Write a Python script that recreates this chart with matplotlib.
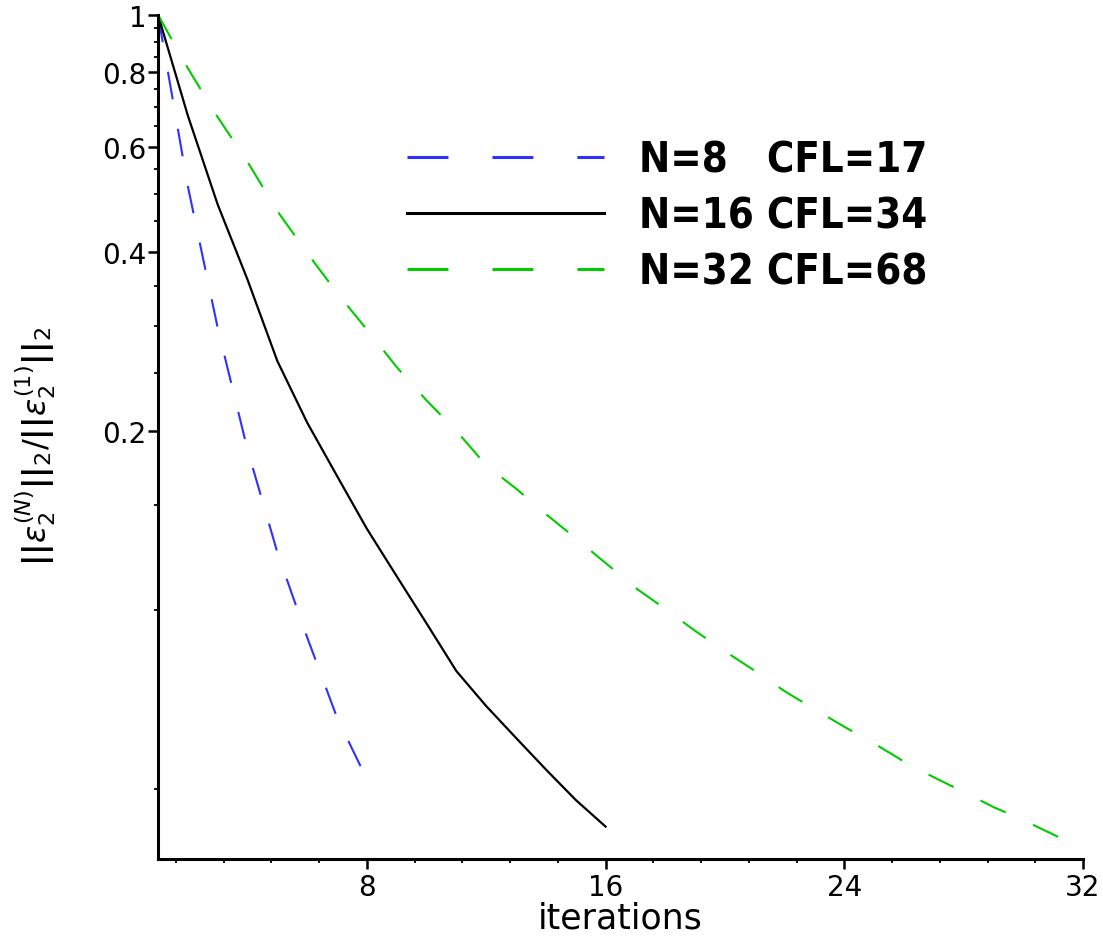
import numpy as np
import matplotlib
matplotlib.use("Agg")
import matplotlib.pyplot as plt
from matplotlib import font_manager
from matplotlib.ticker import FixedLocator, FixedFormatter, NullFormatter

# relative error norm per iteration
it8 = [1, 2, 3, 4, 5, 6, 7, 8]
err8 = [1.0, 0.515, 0.298, 0.186, 0.125, 0.090, 0.066, 0.052]

it16 = list(range(1, 17))
err16 = [1.0, 0.677, 0.48, 0.359, 0.262, 0.2065, 0.168, 0.137,
         0.114, 0.095, 0.079, 0.069, 0.061, 0.054, 0.048, 0.0433]

it32 = list(range(1, 33))
err32 = [1.0, 0.813, 0.673, 0.566, 0.468, 0.398, 0.341, 0.296,
         0.256, 0.225, 0.200, 0.175, 0.160, 0.145, 0.132, 0.120,
         0.109, 0.1005, 0.0923, 0.0853, 0.0791, 0.0731, 0.0682, 0.0637,
         0.0597, 0.0557, 0.0524, 0.0495, 0.0467, 0.0444, 0.0420, 0.0397]

labels = ["N=8   CFL=17", "N=16 CFL=34", "N=32 CFL=68"]

yticks = [0.2, 0.4, 0.6, 0.8, 1.0]
yticklabels = ["0.2", "0.4", "0.6", "0.8", "1"]
xticks = [8, 16, 24, 32]

# a condensed bold face gets closer to the tall legend text, if there is one
condensed = any(f.name == "DejaVu Sans" and f.stretch == "condensed"
                for f in font_manager.fontManager.ttflist)
if condensed:
    leg_prop = {"family": "DejaVu Sans", "weight": "bold",
                "stretch": "condensed", "size": 30}
else:
    leg_prop = {"family": "DejaVu Sans", "weight": "bold", "size": 27}
leg_size = leg_prop["size"]

fig = plt.figure(figsize=(11.03, 9.37), dpi=100)
ax = fig.add_axes([158/1103, 77/937, 925/1103, 844.3/937])

dash = (0, (13.4, 14.4))
ax.plot(it8, err8, color="#3030ff", lw=1.5, ls=dash, label=labels[0])
ax.plot(it16, err16, color="black", lw=1.6, label=labels[1])
ax.plot(it32, err32, color="#00cc00", lw=1.5, ls=dash, label=labels[2])

ax.set_yscale("log")
ax.set_xlim(1, 32)
ax.set_ylim(0.0382, 1.0)

ax.yaxis.set_major_locator(FixedLocator(yticks))
ax.yaxis.set_major_formatter(FixedFormatter(yticklabels))
yminor = [round(0.05*k, 2) for k in range(1, 20) if k % 4 != 0]
ax.yaxis.set_minor_locator(FixedLocator(yminor))
ax.yaxis.set_minor_formatter(NullFormatter())

ax.xaxis.set_major_locator(FixedLocator(xticks))
ax.xaxis.set_minor_locator(FixedLocator([1.6*k for k in range(1, 21) if k % 5 != 0]))

for s in ["top", "right"]:
    ax.spines[s].set_visible(False)
for s in ["left", "bottom"]:
    ax.spines[s].set_linewidth(2.2)

ax.tick_params(which="major", length=7, width=1.8, labelsize=20, pad=1.5)
ax.tick_params(which="minor", length=3, width=1.3)
ax.tick_params(axis="x", which="major", pad=3)

ax.set_xlabel("iterations", fontsize=25, labelpad=0)
ax.set_ylabel(r"$\mathbf{||}\varepsilon_2^{(N)}\mathbf{||}_2/\mathbf{||}\varepsilon_2^{(1)}\mathbf{||}_2$",
              fontsize=23)
ax.yaxis.set_label_coords(-0.108, 0.49)

leg = ax.legend(loc="upper left", bbox_to_anchor=(0.269, 0.853), frameon=False,
                borderpad=0, borderaxespad=0, handlelength=142/leg_size,
                handletextpad=25/leg_size, labelspacing=0.33, prop=leg_prop)
for h in leg.get_lines():
    h.set_linewidth(2.2)

fig.savefig("out.png", dpi=100)
